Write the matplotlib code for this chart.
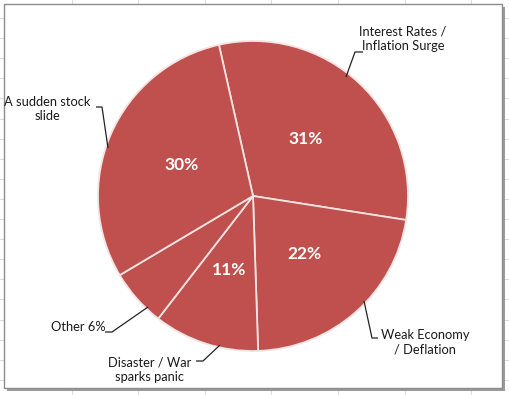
import matplotlib
matplotlib.use("Agg")
import matplotlib.pyplot as plt
from matplotlib.lines import Line2D
from matplotlib.patches import Rectangle
import numpy as np

categories = ["Interest Rates /\nInflation Surge", "Weak Economy\n/ Deflation",
              "Disaster / War\nsparks panic", "Other 6%", "A sudden stock\nslide"]
values = [31, 22, 11, 6, 30]
pct_labels = ["31%", "22%", "11%", "", "30%"]

W, H = 509, 395
fig = plt.figure(figsize=(W / 100, H / 100), dpi=100)
fig.patch.set_facecolor("white")

# Excel-like sheet gridlines behind the chart
for x in [72, 138, 205, 271, 338, 405, 471]:
    fig.add_artist(Line2D([x / W, x / W], [0, 1], color="#dadcdd", lw=0.8, zorder=0))
for y in np.arange(18, 395, 20.1):
    fig.add_artist(Line2D([0, 1], [1 - y / H, 1 - y / H], color="#dadcdd", lw=0.8, zorder=0))

ax = fig.add_axes([0, 0, 1, 1])
ax.set_xlim(0, W)
ax.set_ylim(0, H)
ax.axis("off")
ax.set_zorder(2)
ax.patch.set_alpha(0)

# chart frame with shadow
ax.add_patch(Rectangle((7, H - 391), 498, 384, facecolor="#9a9a9a", edgecolor="none", zorder=1))
ax.add_patch(Rectangle((4, H - 388), 498, 384, facecolor="white", edgecolor="#8c8c8c", lw=1.0, zorder=2))

cx, cy, R = 253, H - 196, 155
wedges, texts, autotexts = ax.pie(
    values, startangle=102.7, counterclock=False, center=(cx, cy), radius=R,
    colors=["#c0504d"] * len(values), labels=None,
    autopct=lambda p: "", pctdistance=0.5,
    wedgeprops=dict(edgecolor="#f3e3e2", linewidth=1.3), frame=False)
for w in wedges:
    w.set_zorder(3)
for w, t, lab in zip(wedges, autotexts, pct_labels):
    t.set_text(lab)
    t.set_color("white")
    t.set_fontsize(12.5)
    t.set_fontweight("bold")
    t.set_fontfamily("Lato")
    t.set_zorder(5)
ax.set_xlim(0, W)
ax.set_ylim(0, H)
ax.set_aspect("auto")

font = dict(fontsize=9.3, family="Lato", color="#1a1a1a", zorder=5, linespacing=1.25)
# outer labels: (text position, leader polyline)
label_pos = [
    ((403, 39), "center", [(363, 52), (355, 52), (346, 77)]),
    ((425, 342), "center", [(378, 338), (372, 338), (364, 301)]),
    ((150, 370), "center", [(196, 361), (203, 361), (220, 345)]),
    ((78, 327), "center", [(105, 332), (112, 332), (148, 307)]),
    ((47, 109), "center", [(96, 107), (102, 107), (108, 148)]),
]
for cat, (pos, ha, line) in zip(categories, label_pos):
    ax.text(pos[0], H - pos[1], cat, ha=ha, va="center", **font)
    xs = [p[0] for p in line]
    ys = [H - p[1] for p in line]
    ax.plot(xs, ys, color="#222222", lw=0.9, zorder=4, solid_capstyle="butt")

fig.savefig("out.png", dpi=100)
